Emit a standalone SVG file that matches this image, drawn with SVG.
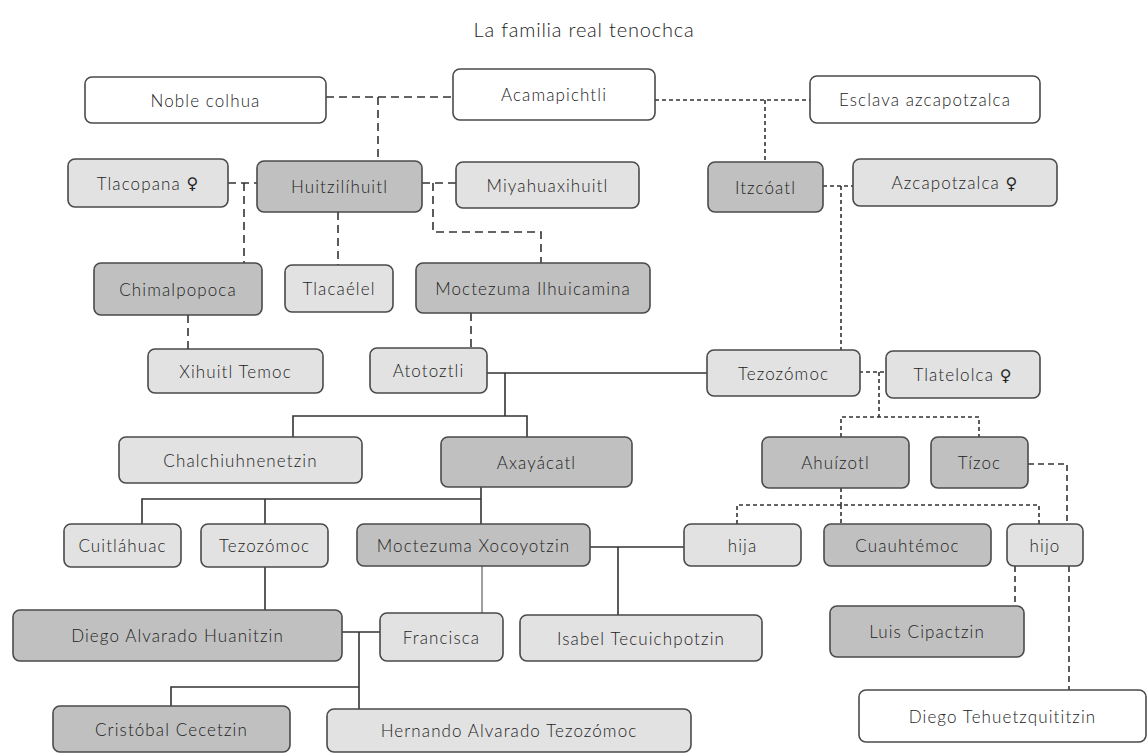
<svg xmlns="http://www.w3.org/2000/svg" width="1148" height="755" viewBox="0 0 1148 755">
<style>
  .n rect { stroke: #4a4a4a; stroke-width: 1.6; rx: 7; ry: 7; }
  .w rect { fill: #ffffff; }
  .l rect { fill: #e2e2e2; }
  .d rect { fill: #c0c0c0; }
  .n text { font-family: "Lato", "DejaVu Sans", sans-serif; font-size: 17px; font-weight: 300; fill: #222; text-anchor: middle; dominant-baseline: central; letter-spacing: 1.1px; }
  .n text .sym { font-family: "DejaVu Sans", sans-serif; font-weight: 400; font-size: 16px; }
  .title { font-family: "Lato", "DejaVu Sans", sans-serif; font-size: 20px; font-weight: 300; fill: #222; text-anchor: middle; letter-spacing: 0.8px; }
  #connectors path { fill: none; stroke: #333; stroke-width: 1.6; }
  #connectors .ld { stroke-dasharray: 8 5; }
  #connectors .sd { stroke-dasharray: 4 3; }
  #connectors .md { stroke-dasharray: 6 4; }
  #connectors .lg { stroke: #888; }
</style>
<text class="title" x="584" y="37">La familia real tenochca</text>
<g id="connectors">
  <path class="ld" d="M326 97 H453 M378 97 V161"/>
  <path class="sd" d="M655 100 H810 M765 100 V162"/>
  <path class="ld" d="M228 183 H257 M244 183 V263"/>
  <path class="ld" d="M422 183 H456 M433 183 V232 H541 V263"/>
  <path class="ld" d="M338 212 V265"/>
  <path class="ld" d="M188 315 V349"/>
  <path class="ld" d="M471 313 V348"/>
  <path class="sd" d="M823 186 H853 M841 186 V350"/>
  <path d="M487 373 H707 M505 373 V416 M293 437 V416 H527 V437"/>
  <path class="sd" d="M859 372 H886 M879 372 V417 M841 437 V417 H979 V437"/>
  <path class="md" d="M1028 464 H1067 V524"/>
  <path class="sd" d="M841 488 V505 M737 524 V505 H1039 V524 M841 505 V524"/>
  <path d="M481 487 V524 M142 524 V499 H481 M265 499 V524"/>
  <path d="M590 547 H684 M618 547 V615"/>
  <path class="lg" d="M482 566 V613"/>
  <path d="M265 567 V610"/>
  <path d="M342 632 H380 M359 632 V709 M359 687 H171 V706"/>
  <path class="md" d="M1015 566 V606 M1069 566 V690"/>
</g>
<g id="noble-colhua" class="n w"><rect x="85" y="77" width="241" height="46"/><text x="205.5" y="100">Noble colhua</text></g>
<g id="acamapichtli" class="n w"><rect x="453" y="69" width="202" height="51"/><text x="554" y="94.5">Acamapichtli</text></g>
<g id="esclava" class="n w"><rect x="810" y="76" width="230" height="47"/><text x="925" y="99.5">Esclava azcapotzalca</text></g>
<g id="tlacopana" class="n l"><rect x="68" y="159" width="160" height="48"/><text x="148" y="183">Tlacopana <tspan class="sym">♀</tspan></text></g>
<g id="huitzilihuitl" class="n d"><rect x="257" y="161" width="165" height="51"/><text x="339.5" y="186.5">Huitzilíhuitl</text></g>
<g id="miyahuaxihuitl" class="n l"><rect x="456" y="162" width="183" height="46"/><text x="547.5" y="185">Miyahuaxihuitl</text></g>
<g id="itzcoatl" class="n d"><rect x="708" y="162" width="115" height="50"/><text x="765.5" y="187">Itzcóatl</text></g>
<g id="azcapotzalca" class="n l"><rect x="853" y="159" width="204" height="47"/><text x="955" y="182.5">Azcapotzalca <tspan class="sym">♀</tspan></text></g>
<g id="chimalpopoca" class="n d"><rect x="94" y="263" width="168" height="52"/><text x="178" y="289">Chimalpopoca</text></g>
<g id="tlacaelel" class="n l"><rect x="285" y="265" width="108" height="47"/><text x="339" y="288.5">Tlacaélel</text></g>
<g id="moctezuma-ilhuicamina" class="n d"><rect x="416" y="263" width="234" height="50"/><text x="533" y="288">Moctezuma Ilhuicamina</text></g>
<g id="xihuitl-temoc" class="n l"><rect x="148" y="349" width="175" height="44"/><text x="235.5" y="371">Xihuitl Temoc</text></g>
<g id="atotoztli" class="n l"><rect x="370" y="348" width="117" height="45"/><text x="428.5" y="370.5">Atotoztli</text></g>
<g id="tezozomoc-1" class="n l"><rect x="707" y="350" width="153" height="46"/><text x="783.5" y="373">Tezozómoc</text></g>
<g id="tlatelolca" class="n l"><rect x="886" y="351" width="154" height="47"/><text x="963" y="374.5">Tlatelolca <tspan class="sym">♀</tspan></text></g>
<g id="chalchiuhnenetzin" class="n l"><rect x="119" y="437" width="243" height="46"/><text x="240.5" y="460">Chalchiuhnenetzin</text></g>
<g id="axayacatl" class="n d"><rect x="441" y="437" width="191" height="50"/><text x="536.5" y="462">Axayácatl</text></g>
<g id="ahuizotl" class="n d"><rect x="762" y="437" width="147" height="51"/><text x="835.5" y="462.5">Ahuízotl</text></g>
<g id="tizoc" class="n d"><rect x="931" y="437" width="97" height="51"/><text x="979.5" y="462.5">Tízoc</text></g>
<g id="cuitlahuac" class="n l"><rect x="64" y="524" width="117" height="43"/><text x="122.5" y="545.5">Cuitláhuac</text></g>
<g id="tezozomoc-2" class="n l"><rect x="201" y="524" width="127" height="43"/><text x="264.5" y="545.5">Tezozómoc</text></g>
<g id="moctezuma-xocoyotzin" class="n d"><rect x="357" y="524" width="233" height="42"/><text x="473.5" y="545">Moctezuma Xocoyotzin</text></g>
<g id="hija" class="n l"><rect x="684" y="524" width="117" height="42"/><text x="742.5" y="545">hija</text></g>
<g id="cuauhtemoc" class="n d"><rect x="824" y="524" width="167" height="42"/><text x="907.5" y="545">Cuauhtémoc</text></g>
<g id="hijo" class="n l"><rect x="1007" y="524" width="76" height="42"/><text x="1045" y="545">hijo</text></g>
<g id="diego-alvarado-huanitzin" class="n d"><rect x="13" y="610" width="329" height="51"/><text x="177.5" y="635.5">Diego Alvarado Huanitzin</text></g>
<g id="francisca" class="n l"><rect x="380" y="613" width="123" height="48"/><text x="441.5" y="637">Francisca</text></g>
<g id="isabel-tecuichpotzin" class="n l"><rect x="520" y="615" width="242" height="46"/><text x="641" y="638">Isabel Tecuichpotzin</text></g>
<g id="luis-cipactzin" class="n d"><rect x="830" y="606" width="194" height="51"/><text x="927" y="631.5">Luis Cipactzin</text></g>
<g id="cristobal-cecetzin" class="n d"><rect x="53" y="706" width="237" height="46"/><text x="171.5" y="729">Cristóbal Cecetzin</text></g>
<g id="hernando-alvarado-tezozomoc" class="n l"><rect x="327" y="709" width="364" height="43"/><text x="509" y="730.5">Hernando Alvarado Tezozómoc</text></g>
<g id="diego-tehuetzquititzin" class="n w"><rect x="859" y="690" width="287" height="52"/><text x="1002.5" y="716">Diego Tehuetzquititzin</text></g>
</svg>
